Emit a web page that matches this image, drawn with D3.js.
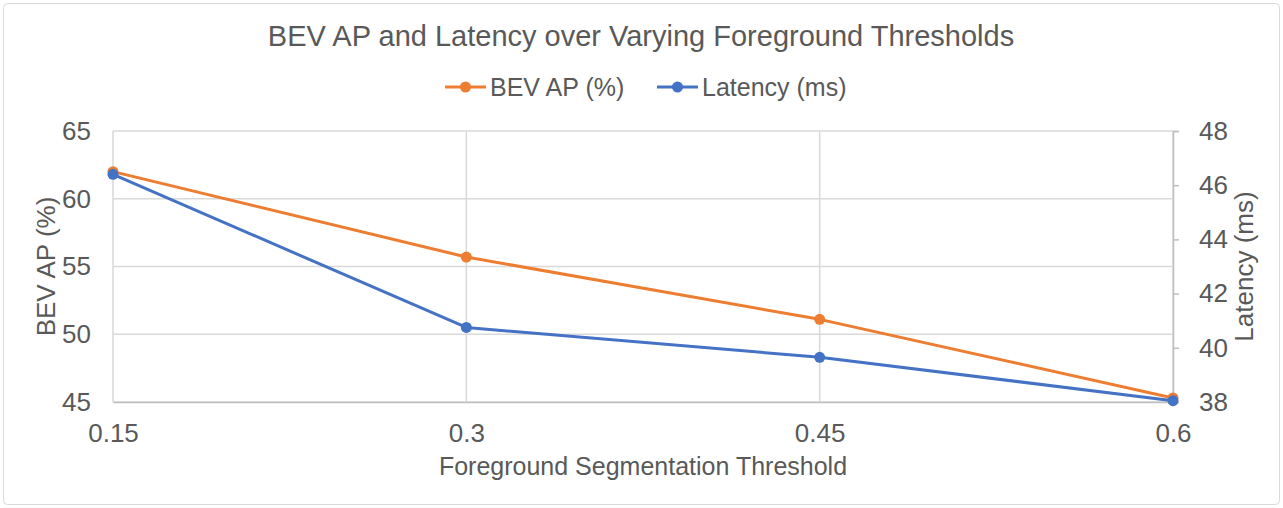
<!DOCTYPE html>
<html>
<head>
<meta charset="utf-8">
<script src="https://cdn.jsdelivr.net/npm/d3@7"></script>
<style>
  body { margin: 0; background: #fff; }
  text { font-family: "Liberation Sans", Arial, sans-serif; fill: #595959; }
</style>
</head>
<body>
<div id="chart"></div>
<script>
// data
var thresholds = ["0.15", "0.3", "0.45", "0.6"];
var bevAP = [62.0, 55.7, 51.1, 45.3];
var latency = [46.4, 40.75, 39.65, 38.05];
var apTicks = [45, 50, 55, 60, 65];
var latTicks = [38, 40, 42, 44, 46, 48];

var W = 1283, H = 508;
var margin = { top: 131, right: 110, bottom: 106, left: 113 };
var width = W - margin.left - margin.right;
var height = H - margin.top - margin.bottom;

var svg = d3.select("#chart").append("svg")
  .attr("width", W)
  .attr("height", H);

svg.append("rect")
  .attr("x", 3.5).attr("y", 3.5)
  .attr("width", W - 7).attr("height", H - 7)
  .attr("rx", 4)
  .attr("fill", "#fff")
  .attr("stroke", "#d9d9d9");

var g = svg.append("g")
  .attr("transform", `translate(${margin.left},${margin.top})`);

var x = d3.scalePoint().domain(thresholds).range([0, width]);
var yL = d3.scaleLinear().domain([45, 65]).range([height, 0]);
var yR = d3.scaleLinear().domain([38, 48]).range([height, 0]);

// horizontal gridlines from the left axis
g.selectAll(".hgrid")
  .data(apTicks)
  .enter().append("line")
  .attr("x1", 0).attr("x2", width)
  .attr("y1", function(d) { return yL(d); })
  .attr("y2", function(d) { return yL(d); })
  .attr("stroke", "#d9d9d9")
  .attr("stroke-width", 1.5);

// vertical gridlines at each category
g.selectAll(".vgrid")
  .data(thresholds)
  .enter().append("line")
  .attr("x1", function(d) { return x(d); })
  .attr("x2", function(d) { return x(d); })
  .attr("y1", 0).attr("y2", height)
  .attr("stroke", "#d9d9d9")
  .attr("stroke-width", 1.5);

// left axis (labels only)
var left = g.append("g")
  .call(d3.axisLeft(yL).tickValues(apTicks).tickSize(0).tickPadding(22));
left.select(".domain").remove();
left.selectAll("text").style("font-size", "26px").attr("fill", "#595959");

// right axis with outward ticks
var right = g.append("g")
  .attr("transform", `translate(${width},0)`)
  .call(d3.axisRight(yR).tickValues(latTicks).tickSize(6).tickPadding(20));
right.select(".domain").attr("stroke", "#bfbfbf").attr("stroke-width", 1.5);
right.selectAll(".tick line").attr("stroke", "#bfbfbf").attr("stroke-width", 1.5);
right.selectAll("text").style("font-size", "26px").attr("fill", "#595959");

// bottom axis
var bottom = g.append("g")
  .attr("transform", `translate(0,${height})`)
  .call(d3.axisBottom(x).tickSize(0).tickPadding(22));
bottom.select(".domain").attr("stroke", "#bfbfbf").attr("stroke-width", 1.5);
bottom.selectAll("text").style("font-size", "26px").attr("fill", "#595959");

// lines and markers
var series = [
  { name: "BEV AP (%)", values: bevAP, y: yL, color: "#ED7D31" },
  { name: "Latency (ms)", values: latency, y: yR, color: "#4472C4" }
];

series.forEach(function(s) {
  var line = d3.line()
    .x(function(d, i) { return x(thresholds[i]); })
    .y(function(d) { return s.y(d); });

  g.append("path")
    .datum(s.values)
    .attr("fill", "none")
    .attr("stroke", s.color)
    .attr("stroke-width", 3)
    .attr("stroke-linejoin", "round")
    .attr("d", line);

  g.selectAll(null)
    .data(s.values)
    .enter().append("circle")
    .attr("cx", function(d, i) { return x(thresholds[i]); })
    .attr("cy", function(d) { return s.y(d); })
    .attr("r", 5.5)
    .attr("fill", s.color);
});

// titles
svg.append("text")
  .attr("x", 641).attr("y", 46)
  .attr("text-anchor", "middle")
  .style("font-size", "29px")
  .text("BEV AP and Latency over Varying Foreground Thresholds");

svg.append("text")
  .attr("x", margin.left + width / 2).attr("y", 475)
  .attr("text-anchor", "middle")
  .style("font-size", "25px")
  .text("Foreground Segmentation Threshold");

svg.append("text")
  .attr("transform", `translate(55,${margin.top + height / 2}) rotate(-90)`)
  .attr("text-anchor", "middle")
  .style("font-size", "26px")
  .text("BEV AP (%)");

svg.append("text")
  .attr("transform", `translate(1253,${margin.top + height / 2}) rotate(-90)`)
  .attr("text-anchor", "middle")
  .style("font-size", "26px")
  .text("Latency (ms)");

// legend
var legendX = [445, 657];
var legend = svg.selectAll(".legend")
  .data(series)
  .enter().append("g")
  .attr("class", "legend")
  .attr("transform", function(d, i) { return `translate(${legendX[i]},87)`; });

legend.append("line")
  .attr("x1", 0).attr("x2", 41)
  .attr("stroke", function(d) { return d.color; })
  .attr("stroke-width", 3);

legend.append("circle")
  .attr("cx", 20.5).attr("r", 5.5)
  .attr("fill", function(d) { return d.color; });

legend.append("text")
  .attr("x", 45).attr("y", 9)
  .style("font-size", "25px")
  .text(function(d) { return d.name; });
</script>
</body>
</html>
